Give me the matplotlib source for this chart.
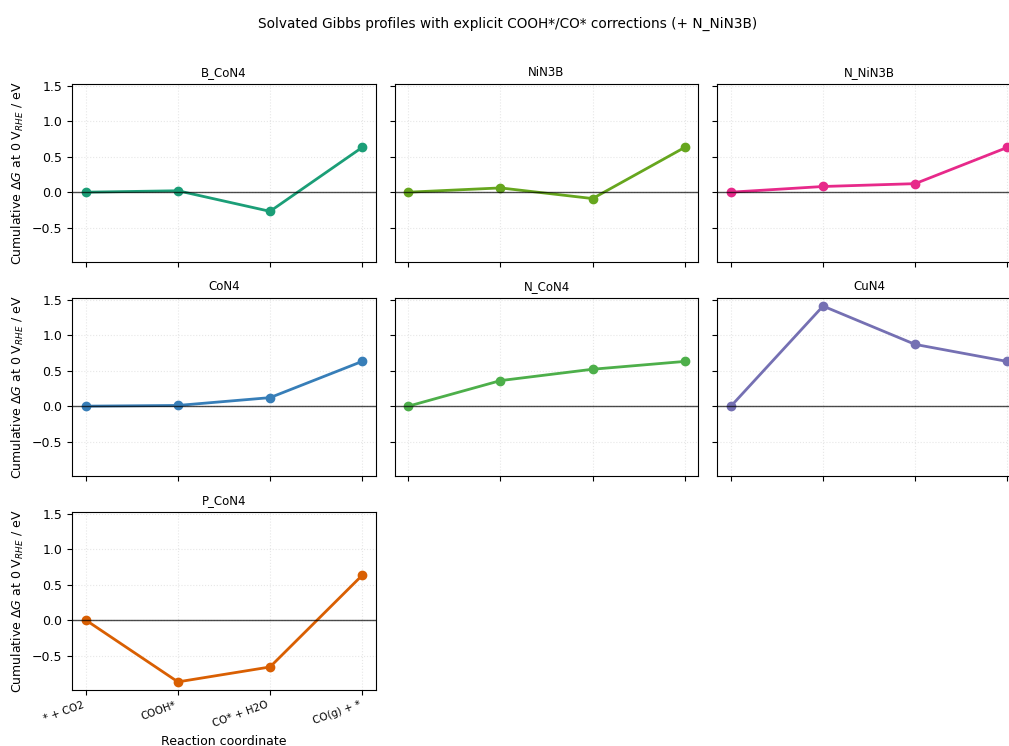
import matplotlib
matplotlib.use("Agg")
import matplotlib.pyplot as plt

steps = ["* + CO2", "COOH*", "CO* + H2O", "CO(g) + *"]

systems = ["B_CoN4", "NiN3B", "N_NiN3B", "CoN4", "N_CoN4", "CuN4", "P_CoN4"]
b_con4 = [0.0, 0.02, -0.27, 0.63]
nin3b = [0.0, 0.06, -0.09, 0.63]
n_nin3b = [0.0, 0.08, 0.12, 0.63]
con4 = [0.0, 0.01, 0.12, 0.63]
n_con4 = [0.0, 0.36, 0.52, 0.63]
cun4 = [0.0, 1.41, 0.87, 0.63]
p_con4 = [0.0, -0.87, -0.66, 0.63]
profiles = [b_con4, nin3b, n_nin3b, con4, n_con4, cun4, p_con4]

colors = ["#1b9e77", "#66a61e", "#e7298a", "#377eb8", "#4daf4a", "#7570b3", "#d95f02"]

fig, axes = plt.subplots(3, 3, figsize=(10.09, 7.46), dpi=100, sharex=True, sharey=True)
fig.subplots_adjust(left=0.0714, right=1.0119, top=0.8874, bottom=0.0751,
                    wspace=0.0616, hspace=0.202)

x = list(range(len(steps)))
for i, ax in enumerate(axes.flat):
    if i >= len(systems):
        ax.set_visible(False)
        continue
    ax.plot(x, profiles[i], "-o", color=colors[i], lw=2, ms=6)
    ax.axhline(0, color="black", lw=1, alpha=0.7)
    ax.set_title(systems[i], fontsize=8.5)
    ax.grid(True, linestyle=":", alpha=0.3)
    ax.tick_params(labelsize=9)
    if i % 3 == 0:
        ax.set_ylabel(r"Cumulative $\Delta G$ at 0 V$_{RHE}$ / eV", fontsize=9)

axes[2, 0].set_xticks(x)
axes[2, 0].set_xticklabels(steps, rotation=20, ha="right", fontsize=7.5)
axes[2, 0].set_xlabel("Reaction coordinate", fontsize=9)
for ax in axes[:2, :].flat:
    ax.tick_params(labelbottom=False)

fig.suptitle("Solvated Gibbs profiles with explicit COOH*/CO* corrections (+ N_NiN3B)",
             x=0.503, y=0.977, fontsize=9.8)

plt.savefig("out.png", dpi=100)
